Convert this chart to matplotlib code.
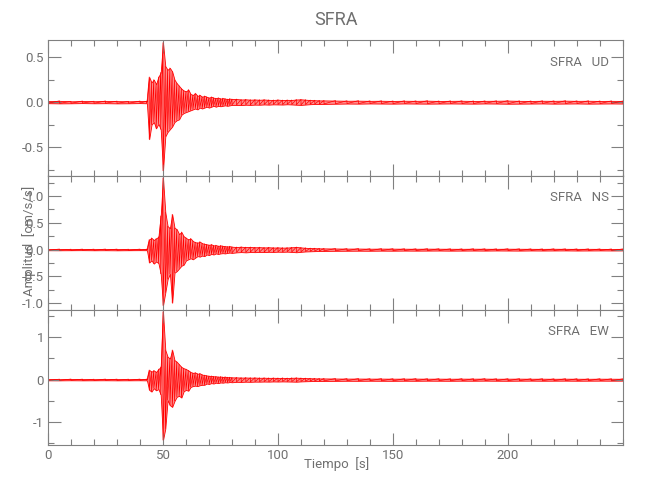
import numpy as np
import matplotlib
matplotlib.use('Agg')
import matplotlib.pyplot as plt
from matplotlib.ticker import MultipleLocator, FormatStrFormatter

plt.rcParams['font.family'] = ['Roboto', 'DejaVu Sans']

# sample times of the peak values [s]
t_env = np.concatenate([np.arange(0, 45, 5), [43],
                        np.arange(44, 81, 1), np.arange(82, 121, 2),
                        np.arange(125, 251, 5)]).astype(float)

# UD component: upper / lower peaks [cm/s/s]
ud_up = [0.012, 0.015, 0.010, 0.013, 0.011, 0.014, 0.012, 0.010, 0.013, 0.012,
         0.28, 0.22, 0.25, 0.20, 0.28, 0.33, 0.66, 0.40, 0.36, 0.38,
         0.34, 0.25, 0.21, 0.18, 0.15, 0.13, 0.12, 0.14, 0.09, 0.08,
         0.10, 0.07, 0.08, 0.06, 0.07, 0.06, 0.05, 0.06, 0.05, 0.045,
         0.05, 0.04, 0.045, 0.04, 0.035, 0.04, 0.035,
         0.035, 0.03, 0.032, 0.028, 0.03, 0.027, 0.03, 0.026, 0.025, 0.028,
         0.024, 0.026, 0.025, 0.03, 0.032, 0.028, 0.024, 0.022, 0.02, 0.02,
         0.018, 0.016, 0.017, 0.015, 0.016, 0.014, 0.016, 0.015, 0.017, 0.014,
         0.015, 0.016, 0.014, 0.015, 0.016, 0.018, 0.015, 0.014, 0.016, 0.015,
         0.017, 0.015, 0.016, 0.014, 0.015, 0.014]
ud_lo = [-0.011, -0.013, -0.012, -0.010, -0.012, -0.011, -0.013, -0.012, -0.010, -0.012,
         -0.41, -0.25, -0.22, -0.29, -0.24, -0.30, -0.76, -0.38, -0.33, -0.30,
         -0.27, -0.22, -0.20, -0.19, -0.14, -0.12, -0.11, -0.10, -0.09, -0.08,
         -0.07, -0.08, -0.06, -0.07, -0.06, -0.05, -0.06, -0.05, -0.04, -0.05,
         -0.04, -0.045, -0.04, -0.035, -0.04, -0.035, -0.03,
         -0.03, -0.032, -0.028, -0.03, -0.027, -0.028, -0.025, -0.027, -0.024, -0.025,
         -0.026, -0.023, -0.025, -0.028, -0.03, -0.026, -0.022, -0.02, -0.021, -0.019,
         -0.017, -0.015, -0.016, -0.014, -0.015, -0.016, -0.014, -0.015, -0.016, -0.015,
         -0.014, -0.015, -0.016, -0.014, -0.015, -0.017, -0.016, -0.015, -0.014, -0.016,
         -0.015, -0.014, -0.016, -0.015, -0.014, -0.015]

# NS component
ns_up = [0.010, 0.012, 0.009, 0.011, 0.010, 0.012, 0.011, 0.009, 0.011, 0.010,
         0.19, 0.22, 0.18, 0.21, 0.24, 0.63, 1.34, 0.70, 0.44, 0.40,
         0.66, 0.41, 0.38, 0.29, 0.33, 0.25, 0.22, 0.19, 0.21, 0.16,
         0.14, 0.13, 0.15, 0.12, 0.11, 0.10, 0.09, 0.10, 0.08, 0.085,
         0.07, 0.08, 0.07, 0.065, 0.06, 0.065, 0.055,
         0.05, 0.055, 0.048, 0.05, 0.045, 0.047, 0.042, 0.045, 0.04, 0.042,
         0.038, 0.04, 0.045, 0.05, 0.042, 0.035, 0.03, 0.028, 0.025, 0.024,
         0.022, 0.02, 0.021, 0.018, 0.02, 0.019, 0.018, 0.017, 0.019, 0.018,
         0.017, 0.016, 0.018, 0.017, 0.016, 0.018, 0.017, 0.016, 0.015, 0.017,
         0.016, 0.015, 0.016, 0.015, 0.014, 0.015]
ns_lo = [-0.010, -0.011, -0.010, -0.009, -0.011, -0.010, -0.012, -0.010, -0.009, -0.010,
         -0.24, -0.20, -0.26, -0.22, -0.25, -0.45, -1.04, -0.80, -0.55, -0.45,
         -0.99, -0.43, -0.40, -0.35, -0.30, -0.28, -0.20, -0.18, -0.16, -0.18,
         -0.15, -0.12, -0.13, -0.11, -0.12, -0.09, -0.10, -0.08, -0.09, -0.07,
         -0.08, -0.07, -0.065, -0.07, -0.06, -0.055, -0.06,
         -0.05, -0.045, -0.05, -0.044, -0.046, -0.042, -0.045, -0.04, -0.042, -0.038,
         -0.04, -0.037, -0.042, -0.048, -0.04, -0.033, -0.03, -0.027, -0.025, -0.023,
         -0.021, -0.02, -0.019, -0.02, -0.018, -0.019, -0.017, -0.018, -0.017, -0.016,
         -0.018, -0.017, -0.016, -0.017, -0.015, -0.016, -0.017, -0.015, -0.016, -0.015,
         -0.014, -0.016, -0.015, -0.014, -0.015, -0.014]

# EW component
ew_up = [0.015, 0.013, 0.016, 0.014, 0.012, 0.015, 0.014, 0.013, 0.015, 0.015,
         0.23, 0.19, 0.22, 0.18, 0.25, 0.30, 1.60, 0.70, 0.54, 0.50,
         0.70, 0.46, 0.42, 0.36, 0.30, 0.27, 0.25, 0.22, 0.18, 0.16,
         0.17, 0.14, 0.15, 0.12, 0.11, 0.10, 0.09, 0.09, 0.08, 0.08,
         0.07, 0.075, 0.065, 0.07, 0.06, 0.06, 0.055,
         0.055, 0.05, 0.052, 0.048, 0.05, 0.045, 0.047, 0.043, 0.045, 0.042,
         0.044, 0.04, 0.045, 0.048, 0.042, 0.038, 0.035, 0.032, 0.03, 0.03,
         0.028, 0.026, 0.027, 0.025, 0.026, 0.024, 0.025, 0.026, 0.024, 0.025,
         0.023, 0.025, 0.024, 0.026, 0.023, 0.024, 0.025, 0.023, 0.024, 0.022,
         0.024, 0.023, 0.022, 0.024, 0.023, 0.022]
ew_lo = [-0.014, -0.015, -0.013, -0.015, -0.014, -0.013, -0.015, -0.014, -0.013, -0.015,
         -0.24, -0.28, -0.20, -0.25, -0.22, -0.35, -1.42, -1.15, -0.48, -0.60,
         -0.64, -0.50, -0.40, -0.38, -0.42, -0.27, -0.24, -0.26, -0.17, -0.15,
         -0.14, -0.15, -0.13, -0.12, -0.12, -0.09, -0.10, -0.08, -0.09, -0.07,
         -0.08, -0.065, -0.07, -0.06, -0.065, -0.055, -0.06,
         -0.05, -0.052, -0.047, -0.05, -0.045, -0.046, -0.043, -0.045, -0.041, -0.043,
         -0.04, -0.042, -0.044, -0.047, -0.04, -0.036, -0.033, -0.03, -0.029, -0.028,
         -0.027, -0.025, -0.026, -0.024, -0.025, -0.026, -0.024, -0.025, -0.023, -0.024,
         -0.025, -0.023, -0.024, -0.022, -0.024, -0.025, -0.023, -0.022, -0.024, -0.023,
         -0.022, -0.024, -0.023, -0.022, -0.023, -0.022]

components = ['UD', 'NS', 'EW']
station = 'SFRA'
ylims = [(-0.813, 0.69), (-1.116, 1.384), (-1.536, 1.652)]
ymajor = [0.5, 0.5, 1.0]
yminor = [0.25, 0.25, 0.5]
yfmt = ['%.1f', '%.1f', '%.0f']
ups = [ud_up, ns_up, ew_up]
los = [ud_lo, ns_lo, ew_lo]

gray = '#808080'
txt = '#707070'
fig = plt.figure(figsize=(6.5, 5), dpi=100)
# panel rectangles in figure fractions
left, width = 48/650, 575/650
bottoms = [1-175.5/500, 1-309.5/500, 1-445/500]
heights = [135.5/500, 134/500, 135.5/500]

for i in range(3):
    ax = fig.add_axes([left, bottoms[i], width, heights[i]])
    # band between the peaks, then the trace zig-zagging between them
    ax.fill_between(t_env, los[i], ups[i], facecolor=(1, 0, 0, 0.45),
                    edgecolor='red', lw=0.6)
    tt = np.repeat(t_env, 2)
    yy = np.empty(2*len(t_env))
    yy[0::2] = ups[i]
    yy[1::2] = los[i]
    ax.plot(tt, yy, color='red', lw=0.5)
    ax.set_xlim(0, 250)
    ax.set_ylim(*ylims[i])
    ax.xaxis.set_major_locator(plt.FixedLocator([0, 50, 100, 150, 200]))
    ax.xaxis.set_minor_locator(MultipleLocator(10))
    ax.yaxis.set_major_locator(MultipleLocator(ymajor[i]))
    ax.yaxis.set_minor_locator(MultipleLocator(yminor[i]))
    ax.yaxis.set_major_formatter(FormatStrFormatter(yfmt[i]))
    ax.tick_params(which='both', direction='in', top=True, right=True,
                   color=gray, labelcolor=txt, labelsize=9.5, width=0.8)
    ax.tick_params(which='major', length=9, pad=3)
    ax.tick_params(which='minor', length=4.5)
    for s in ax.spines.values():
        s.set_color(gray)
        s.set_linewidth(0.8)
    if i < 2:
        ax.tick_params(labelbottom=False)
    ax.text(1 - 14/575, 1 - 22/135.5, station + '   ' + components[i],
            transform=ax.transAxes, ha='right', va='center',
            color=txt, fontsize=9.5)

fig.text(336/650, 1-20/500, station, ha='center', va='center', color=txt,
         fontsize=13)
fig.text(337/650, 1-464/500, 'Tiempo  [s]', ha='center', va='center',
         color=txt, fontsize=9.5)
fig.text(29/650, 1-241/500, 'Amplitud  [cm/s/s]', ha='center', va='center',
         rotation=90, color=txt, fontsize=9.5)

fig.savefig('out.png', dpi=100)
